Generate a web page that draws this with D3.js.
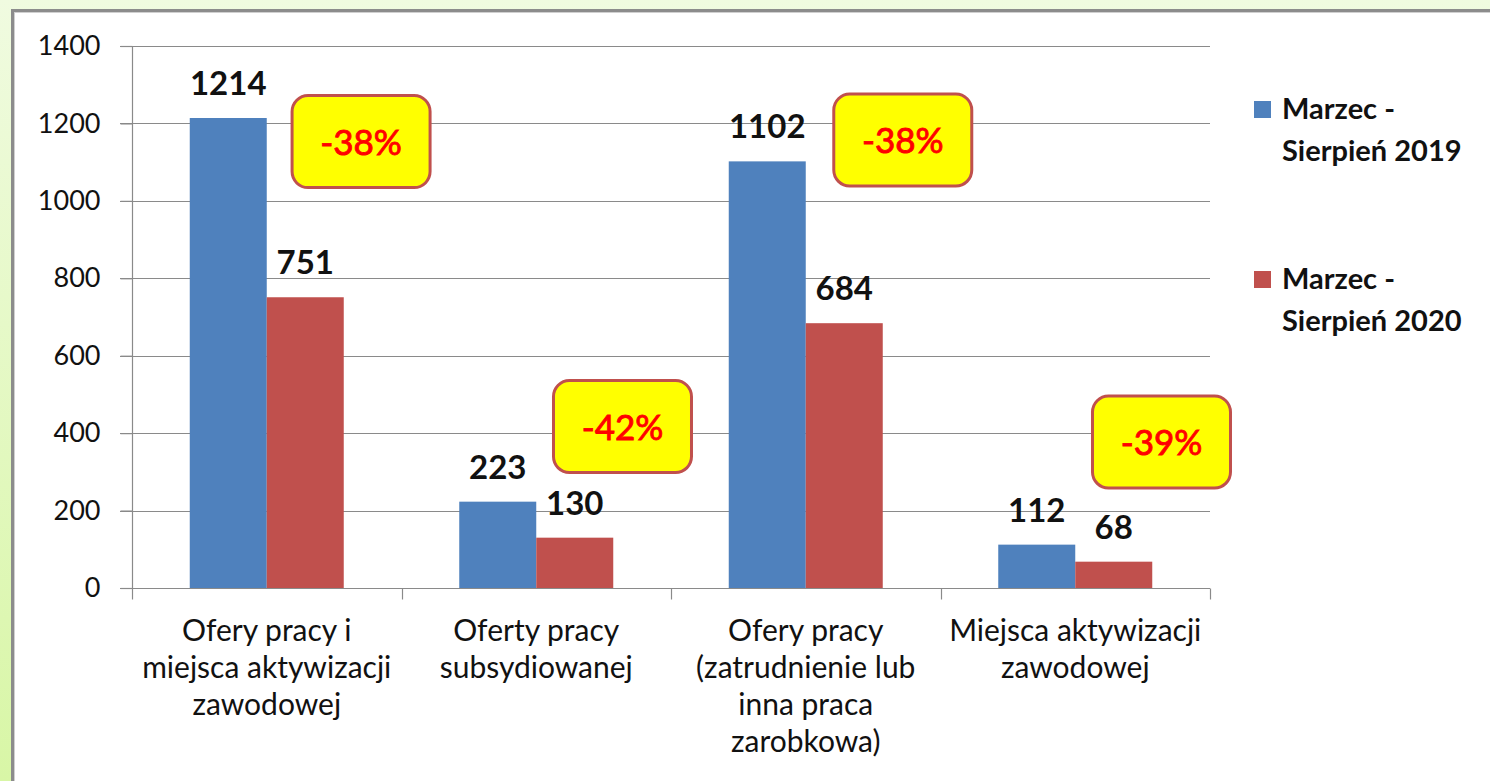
<!DOCTYPE html>
<html>
<head>
<meta charset="utf-8">
<script src="https://cdn.jsdelivr.net/npm/d3@7"></script>
<style>
  body { margin: 0; overflow: hidden; }
  text { font-family: Lato, "Open Sans", sans-serif; }
</style>
</head>
<body>
<div id="my_dataviz"></div>
<script>
// Data
const categories = [
  ["Ofery pracy i", "miejsca aktywizacji", "zawodowej"],
  ["Oferty pracy", "subsydiowanej"],
  ["Ofery pracy", "(zatrudnienie lub", "inna praca", "zarobkowa)"],
  ["Miejsca aktywizacji", "zawodowej"]
];
const seriesNames = ["Marzec - Sierpień 2019", "Marzec - Sierpień 2020"];
const values2019 = [1214, 223, 1102, 112];
const values2020 = [751, 130, 684, 68];
const changeLabels = ["-38%", "-42%", "-38%", "-39%"];
const yTicks = [0, 200, 400, 600, 800, 1000, 1200, 1400];

const width = 1490, height = 781;
const colors = ["#4F81BD", "#C0504D"];

const svg = d3.select("#my_dataviz")
  .append("svg")
  .attr("width", width)
  .attr("height", height);

// green page background
const defs = svg.append("defs");
const grad = defs.append("linearGradient")
  .attr("id", "bg")
  .attr("x1", 0).attr("y1", 0).attr("x2", 0).attr("y2", 1);
grad.append("stop").attr("offset", "0%").attr("stop-color", "#F0FBE0");
grad.append("stop").attr("offset", "100%").attr("stop-color", "#D8F6A6");

svg.append("rect")
  .attr("width", width).attr("height", height)
  .attr("fill", "url(#bg)");

// white panel with grey edge
svg.append("rect")
  .attr("x", 12.5).attr("y", 10.5)
  .attr("width", width + 20).attr("height", height + 20)
  .attr("fill", "white")
  .attr("stroke", "#8C8C8C")
  .attr("stroke-width", 3);
svg.append("rect")
  .attr("x", 14.5).attr("y", 12.5)
  .attr("width", width + 20).attr("height", height + 20)
  .attr("fill", "none")
  .attr("stroke", "#D0D0D0")
  .attr("stroke-width", 1);

const plot = { left: 132, right: 1210, top: 46, bottom: 588 };

const x = d3.scaleBand()
  .domain(d3.range(categories.length))
  .range([plot.left, plot.right]);

const x1 = d3.scaleBand()
  .domain([0, 1])
  .range([0, x.bandwidth()])
  .paddingInner(0)
  .paddingOuter(0.75);

const y = d3.scaleLinear()
  .domain([0, 1400])
  .range([plot.bottom, plot.top]);

// gridlines
svg.append("g")
  .selectAll("line")
  .data(yTicks.filter(d => d > 0))
  .join("line")
  .attr("x1", plot.left - 12)
  .attr("x2", plot.right)
  .attr("y1", d => Math.round(y(d)) + 0.5)
  .attr("y2", d => Math.round(y(d)) + 0.5)
  .attr("stroke", "#8A8A8A")
  .attr("stroke-width", 1.2);

// y axis
const yAxis = svg.append("g")
  .attr("transform", `translate(${plot.left + 0.5},0)`)
  .call(d3.axisLeft(y).tickValues(yTicks).tickFormat(d3.format("d")).tickSize(12).tickPadding(20));
yAxis.select(".domain").remove();
yAxis.append("line")
  .attr("y1", plot.top).attr("y2", plot.bottom);
yAxis.selectAll("line").attr("stroke", "#8A8A8A").attr("stroke-width", 1.2);
yAxis.selectAll("text")
  .style("font-size", "27px")
  .attr("fill", "#111");

// x axis
const xAxisG = svg.append("g")
  .attr("transform", `translate(0,${Math.round(plot.bottom) + 0.5})`);
xAxisG.append("line")
  .attr("x1", plot.left - 12).attr("x2", plot.right)
  .attr("stroke", "#8A8A8A").attr("stroke-width", 1.2);
xAxisG.selectAll("line.tick")
  .data(d3.range(categories.length + 1))
  .join("line")
  .attr("class", "tick")
  .attr("x1", i => Math.round(plot.left + i * x.bandwidth()) + 0.5)
  .attr("x2", i => Math.round(plot.left + i * x.bandwidth()) + 0.5)
  .attr("y1", 0).attr("y2", 11)
  .attr("stroke", "#8A8A8A").attr("stroke-width", 1.2);

const catLabels = xAxisG.selectAll("text.cat")
  .data(categories)
  .join("text")
  .attr("class", "cat")
  .attr("text-anchor", "middle")
  .attr("x", (d, i) => x(i) + x.bandwidth() / 2)
  .attr("y", 52)
  .style("font-size", "30px")
  .attr("fill", "#111");
catLabels.selectAll("tspan")
  .data((d, i) => d.map(t => ({ t, i })))
  .join("tspan")
  .attr("x", d => x(d.i) + x.bandwidth() / 2)
  .attr("dy", (d, j) => j === 0 ? 0 : 37)
  .text(d => d.t);

// bars
const series = [values2019, values2020];
series.forEach((vals, s) => {
  svg.append("g")
    .selectAll("rect")
    .data(vals)
    .join("rect")
    .attr("x", (d, i) => x(i) + x1(s))
    .attr("y", d => y(d))
    .attr("width", x1.bandwidth())
    .attr("height", d => y(0) - y(d))
    .attr("fill", colors[s]);

  svg.append("g")
    .selectAll("text")
    .data(vals)
    .join("text")
    .attr("x", (d, i) => x(i) + x1(s) + x1.bandwidth() / 2)
    .attr("y", d => y(d) - 23)
    .attr("text-anchor", "middle")
    .style("font-size", "33px")
    .style("font-weight", "bold")
    .attr("fill", "#111")
    .text(d => d);
});

// percentage callouts (placement per group, in data units)
const calloutY = [1153, 417, 1157, 377];
const calloutDx = [0.85, 0.82, 0.86, 0.82];
const boxW = 138, boxH = 92;
const callouts = svg.append("g")
  .selectAll("g")
  .data(changeLabels)
  .join("g")
  .attr("transform", (d, i) =>
    `translate(${x(i) + calloutDx[i] * x.bandwidth()},${y(calloutY[i])})`);
callouts.append("rect")
  .attr("x", -boxW / 2).attr("y", -boxH / 2)
  .attr("width", boxW).attr("height", boxH)
  .attr("rx", 16).attr("ry", 16)
  .attr("fill", "#FFFF00")
  .attr("stroke", "#C0504D")
  .attr("stroke-width", 3);
callouts.append("text")
  .attr("text-anchor", "middle")
  .attr("y", 13)
  .style("font-size", "35px")
  .attr("fill", "#FF0000")
  .attr("stroke", "#FF0000")
  .attr("stroke-width", 0.9)
  .text(d => d);

// legend
const legend = svg.append("g")
  .selectAll("g")
  .data(seriesNames)
  .join("g")
  .attr("transform", (d, i) => `translate(1254,${101 + i * 170})`);
legend.append("rect")
  .attr("width", 17).attr("height", 17)
  .attr("fill", (d, i) => colors[i]);
const legText = legend.append("text")
  .attr("x", 28)
  .attr("y", 18)
  .style("font-size", "29px")
  .style("font-weight", "bold")
  .attr("fill", "#111");
legText.selectAll("tspan")
  .data(d => {
    const parts = d.split(" - ");
    return [parts[0] + " -", parts[1]];
  })
  .join("tspan")
  .attr("x", 28)
  .attr("dy", (d, j) => j === 0 ? 0 : 42)
  .text(d => d);
</script>
</body>
</html>
